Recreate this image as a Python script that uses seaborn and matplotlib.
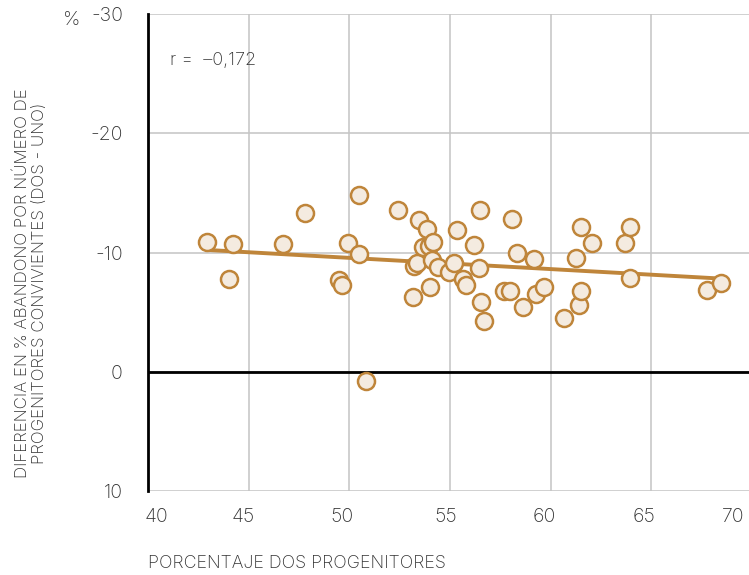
import numpy as np
import pandas as pd
import matplotlib
matplotlib.use("Agg")
import matplotlib.pyplot as plt
import matplotlib.transforms as mtransforms
import seaborn as sns

# Datos (52 puntos)
pct_dos = [42.95, 44.01, 44.21, 46.73, 47.79, 49.51, 49.64, 49.91, 50.46, 50.49,
           50.83, 52.44, 53.16, 53.19, 53.35, 53.44, 53.68, 53.85, 53.98, 54.02,
           54.13, 54.18, 54.38, 54.93, 55.21, 55.34, 55.67, 55.77, 56.17, 56.42,
           56.48, 56.53, 56.68, 57.66, 57.99, 58.07, 58.32, 58.62, 59.18, 59.25,
           59.65, 60.64, 61.25, 61.40, 61.50, 61.50, 62.05, 63.71, 63.92, 63.92,
           67.77, 68.48]
diferencia = [-10.88, -7.74, -10.68, -10.68, -13.34, -7.69, -7.24, -10.76, -9.84, -14.79,
              0.76, -13.56, -6.29, -8.90, -9.10, -12.75, -10.50, -12.00, -10.57, -7.07,
              -9.37, -10.90, -8.75, -8.39, -9.09, -11.89, -7.78, -7.27, -10.65, -8.67,
              -13.56, -5.81, -4.28, -6.74, -6.74, -12.78, -9.98, -5.39, -9.42, -6.52,
              -7.07, -4.50, -9.50, -5.62, -12.10, -6.74, -10.77, -10.77, -12.10, -7.86,
              -6.86, -7.41]
xticks = [40, 45, 50, 55, 60, 65, 70]
yticks = [-30, -20, -10, 0, 10]
r_texto = "r =  \u20130,172"

df = pd.DataFrame({"x": pct_dos, "y": diferencia})

sns.set_style("white")
plt.rcParams["font.family"] = ["Inter", "DejaVu Sans"]
plt.rcParams["font.weight"] = "light"
texto = "#333333"
marron = "#bf853a"

fig = plt.figure(figsize=(7.49, 5.75), dpi=100)
ax = fig.add_axes([148 / 749, 1 - 491 / 575, 604 / 749, 477 / 575])

sns.regplot(data=df, x="x", y="y", ax=ax, ci=None, truncate=True,
            scatter_kws={"s": 150, "facecolor": "#f4ebe0", "edgecolor": marron,
                         "linewidths": 1.8, "alpha": 1, "zorder": 4},
            line_kws={"color": marron, "lw": 2.8, "zorder": 3})

ax.set_xlim(40, 70)
ax.set_ylim(10, -30)
ax.set_xticks(xticks)
ax.set_yticks(yticks)
ax.set_xticklabels([str(v) for v in xticks])
ax.set_yticklabels([str(v) for v in yticks])
ax.tick_params(axis="both", length=0, labelsize=14, labelcolor=texto)
ax.tick_params(axis="y", pad=18)
ax.tick_params(axis="x", pad=12)

# desplazamiento de las etiquetas del eje x (como en el original)
desplaz = [8, -5, -7, -4, -6, -7, -19]
for lab, dx in zip(ax.get_xticklabels(), desplaz):
    lab.set_transform(lab.get_transform() +
                      mtransforms.ScaledTranslation(dx / 100, 0, fig.dpi_scale_trans))

ax.grid(True, color="#c4c4c4", lw=1.1, zorder=0)
ax.set_axisbelow(True)
ax.axhline(0, color="black", lw=2, zorder=2)
for s in ["top", "right", "bottom"]:
    ax.spines[s].set_visible(False)
ax.spines["left"].set_color("black")
ax.spines["left"].set_linewidth(2)

ax.set_xlabel("")
ax.set_ylabel("")
ax.text(41.1, -26.1, r_texto, fontsize=13, color=texto, va="center", ha="left")

fig.text(148 / 749, 1 - 563 / 575, "PORCENTAJE DOS PROGENITORES", fontsize=12.8,
         color=texto, ha="left", va="center")
fig.text(31 / 749, 1 - 283 / 575,
         "DIFERENCIA EN % ABANDONO POR NÚMERO DE\nPROGENITORES CONVIVIENTES (DOS - UNO)",
         fontsize=12.2, color=texto, rotation=90, ha="center", va="center",
         linespacing=1.2)
fig.text(72 / 749, 1 - 20 / 575, "%", fontsize=14, color=texto, ha="center", va="center")

fig.savefig("out.png", dpi=100)
